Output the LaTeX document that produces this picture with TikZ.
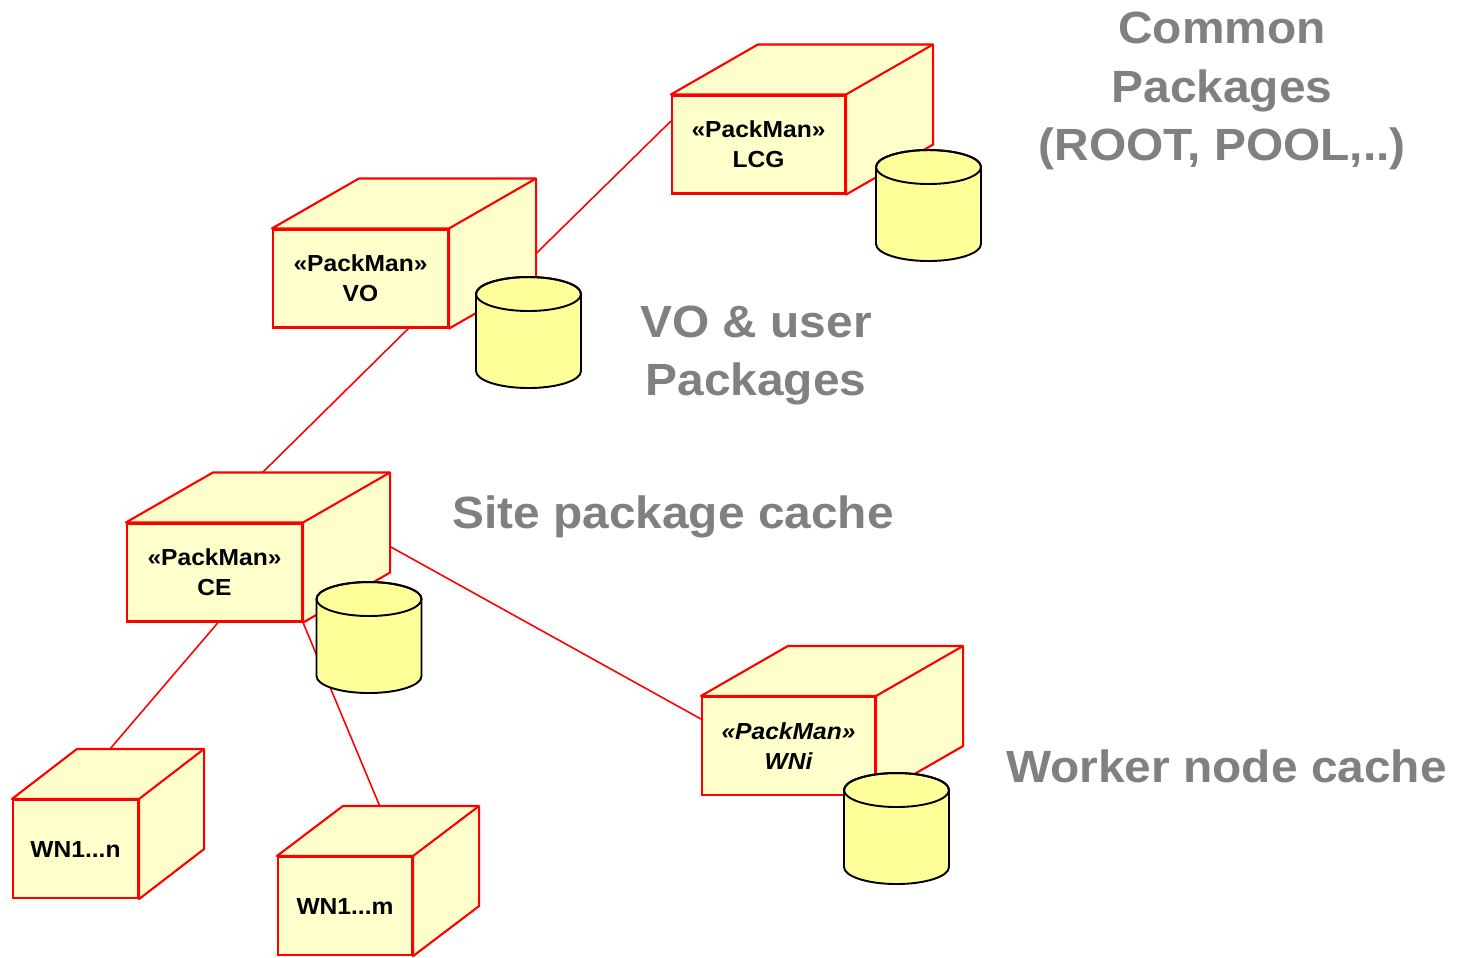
\documentclass[tikz,border=0pt]{standalone}
\usepackage{fontspec}
\setmainfont{Liberation Sans}[FakeStretch=1.06]
\usetikzlibrary{calc}

\definecolor{boxyellow}{HTML}{FFFFCC}
\definecolor{dbyellow}{HTML}{FFFF99}
\definecolor{umlred}{HTML}{FF0000}
\definecolor{labelgray}{HTML}{808080}

% top and side of a node box, #2 = depth to the right
\newcommand{\nodefaces}[2]{%
  \filldraw[boxline] (#1.north west) -- ++(#2,.5) -- ($(#1.north east)+(#2,.5)$)
    -- ($(#1.south east)+(#2,.5)$) -- (#1.south east) -- (#1.north east) -- cycle;
  \draw[boxline] (#1.north east) -- ++(#2,.5);
}
% package store, #1 = centre of its top
\newcommand{\diskstore}[1]{%
  \filldraw[dbline] (#1) ++(-.525,0) -- ++(0,-.77)
    arc[start angle=180,end angle=360,x radius=.525,y radius=.17]
    -- ++(0,.77) arc[start angle=0,end angle=180,x radius=.525,y radius=.17] -- cycle;
  \draw[dbline,fill=none] (#1) ellipse[x radius=.525,y radius=.17];
}

\begin{document}
\begin{tikzpicture}[
                    packbox/.style={draw=umlred, fill=boxyellow, line width=.6pt,
                                    inner sep=0pt, minimum height=.98cm, align=center,
                                    font=\fontsize{6.6}{8.5}\selectfont\bfseries},
                    boxline/.style={draw=umlred, fill=boxyellow, line width=.6pt,
                                    line join=round},
                    dbline/.style={draw=black, fill=dbyellow, line width=.55pt},
                    link/.style={draw=umlred, line width=.45pt},
                    cachelabel/.style={text=labelgray, align=center, inner sep=0pt,
                                       font=\fontsize{12.85}{16.6}\selectfont\bfseries}
                ]
                \useasboundingbox (0,0) rectangle (14.62,-9.57);

                \node (lcg) [packbox, minimum width=1.73cm] at (7.585,-1.445) {«PackMan»\\LCG};
                \node (vo)  [packbox, minimum width=1.75cm] at (3.605,-2.785) {«PackMan»\\VO};
                \node (ce)  [packbox, minimum width=1.75cm] at (2.145,-5.725) {«PackMan»\\CE};
                \node (wni) [packbox, minimum width=1.73cm,
                             font=\fontsize{6.6}{8.5}\selectfont\bfseries\itshape]
                            at (7.885,-7.46) {«PackMan»\\WNi};
                \node (wna) [packbox, minimum width=1.25cm] at (0.755,-8.49) {WN1...n};
                \node (wnb) [packbox, minimum width=1.34cm] at (3.45,-9.06)  {WN1...m};

                \nodefaces{lcg}{.87}
                \nodefaces{vo}{.87}
                \nodefaces{ce}{.87}
                \nodefaces{wni}{.87}
                \nodefaces{wna}{.65}
                \nodefaces{wnb}{.66}

                \draw[link]
                ($(vo.north east)!.75!(vo.south east)+(.87,.5)$) -- (lcg.165)
                ($(vo.south west)!.77!(vo.south east)$) -- ($(ce.north west)!.28!(ce.north east)+(.87,.5)$)
                ($(ce.north east)!.74!(ce.south east)+(.87,.5)$) -- ($(wni.north west)!.23!(wni.south west)$)
                ($(ce.south west)!.52!(ce.south east)$) -- ($(wna.north west)!.26!(wna.north east)+(.65,.5)$)
                (ce.south east) -- ($(wnb.north west)!.27!(wnb.north east)+(.66,.5)$)
                ;

                \diskstore{9.285,-1.67}
                \diskstore{5.285,-2.94}
                \diskstore{3.69,-5.99}
                \diskstore{8.965,-7.90}

                \node (common) [cachelabel] at (12.22,-0.91)  {Common\\Packages\\(ROOT, POOL,..)};
                \node (vouser) [cachelabel] at (7.56,-3.555)  {VO \& user\\Packages};
                \node (site)   [cachelabel, anchor=base] at (6.73,-5.28)  {Site package cache};
                \node (worker) [cachelabel, anchor=base] at (12.265,-7.82) {Worker node cache};
            \end{tikzpicture}
\end{document}
